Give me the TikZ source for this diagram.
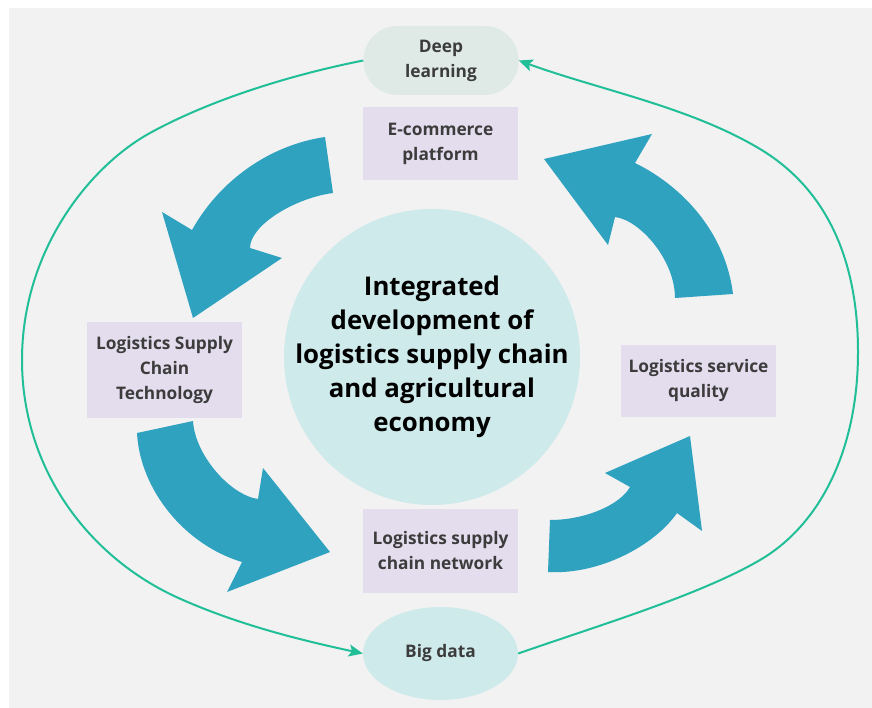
\documentclass[tikz,border=0pt]{standalone}
\usepackage{fontspec}
\setmainfont{Open Sans}
\usetikzlibrary{shapes.geometric,arrows.meta}
\definecolor{bggray}{HTML}{F2F2F2}
\definecolor{boxlilac}{HTML}{E4DDEE}
\definecolor{deepfill}{HTML}{DFEAE7}
\definecolor{hubfill}{HTML}{CFEAEB}
\definecolor{flowblue}{HTML}{2EA2BF}
\definecolor{loopgreen}{HTML}{20BF98}
\definecolor{textgray}{HTML}{3C3C3C}
\begin{document}
\begin{tikzpicture}[x=1pt,y=-1pt,
    box/.style={fill=boxlilac, minimum width=155pt, inner sep=0pt, align=center,
        text=textgray, font=\fontsize{17.3}{25}\selectfont\bfseries},
    hub/.style={inner sep=0pt, align=center, font=\fontsize{25.8}{34}\selectfont\bfseries},
    flow/.style={fill=flowblue},
    loopline/.style={draw=loopgreen, line width=2pt, -{Stealth[length=14pt,width=12pt,inset=3pt]}}]
    \useasboundingbox (0,0) rectangle (872,708);
    \fill[bggray] (9,8) rectangle (872,708);
    % centre and nodes
    \coordinate (mid) at (432,357);
    \fill[hubfill] (mid) circle[radius=148pt];
    \node[hub] (hub) at (mid) {Integrated\\development of\\logistics supply chain\\and agricultural\\economy};
    \node[box, rounded corners=34pt, fill=deepfill, minimum height=69pt] (deep) at (441,60.5) {Deep\\learning};
    \node[box, minimum height=73pt] (ecom) at (440.5,143.5) {E-commerce\\platform};
    \node[box, minimum height=96pt] (tech) at (164.5,370) {Logistics Supply\\Chain\\Technology};
    \node[box, minimum height=72pt] (qual) at (698.5,381) {Logistics service\\quality};
    \node[box, minimum height=84pt] (net) at (440.5,551) {Logistics supply\\chain network};
    \node[box, ellipse, fill=hubfill, minimum height=93pt] (big) at (440.5,653.5) {Big data};
    % big curved arrows
    \fill[flow] (325,137) .. controls (270,145) and (220,180) .. (192,230) -- (162,212) -- (193,318)
        -- (282,258) -- (250,248) .. controls (250,225) and (295,198) .. (333,193) -- cycle;
    \fill[flow] (137,433) .. controls (140,490) and (185,545) .. (242,562) -- (227,592) -- (330,552)
        -- (263,468) -- (258,499) .. controls (230,495) and (195,455) .. (193,421) -- cycle;
    \fill[flow] (548,572) .. controls (600,575) and (655,545) .. (677,513) -- (702,531) -- (690,436)
        -- (605,473) -- (630,487) .. controls (620,505) and (585,520) .. (550,520) -- cycle;
    \fill[flow] (733,294) .. controls (725,230) and (680,185) .. (635,163) -- (652,134) -- (544,159)
        -- (608,245) -- (615,217) .. controls (640,220) and (675,260) .. (675,298) -- cycle;
    % outer loop
    \draw[loopline] (deep.west) .. controls (290,75) and (210,100) .. (150,133)
        .. controls (90,166) and (22,250) .. (22,360)
        .. controls (22,470) and (90,560) .. (183,600)
        .. controls (240,625) and (300,640) .. (big.west);
    \draw[loopline] (big.east) .. controls (600,625) and (700,595) .. (760,560)
        .. controls (820,525) and (858,450) .. (858,352)
        .. controls (858,250) and (820,185) .. (760,149)
        .. controls (690,107) and (600,90) .. (deep.east);
\end{tikzpicture}
\end{document}
